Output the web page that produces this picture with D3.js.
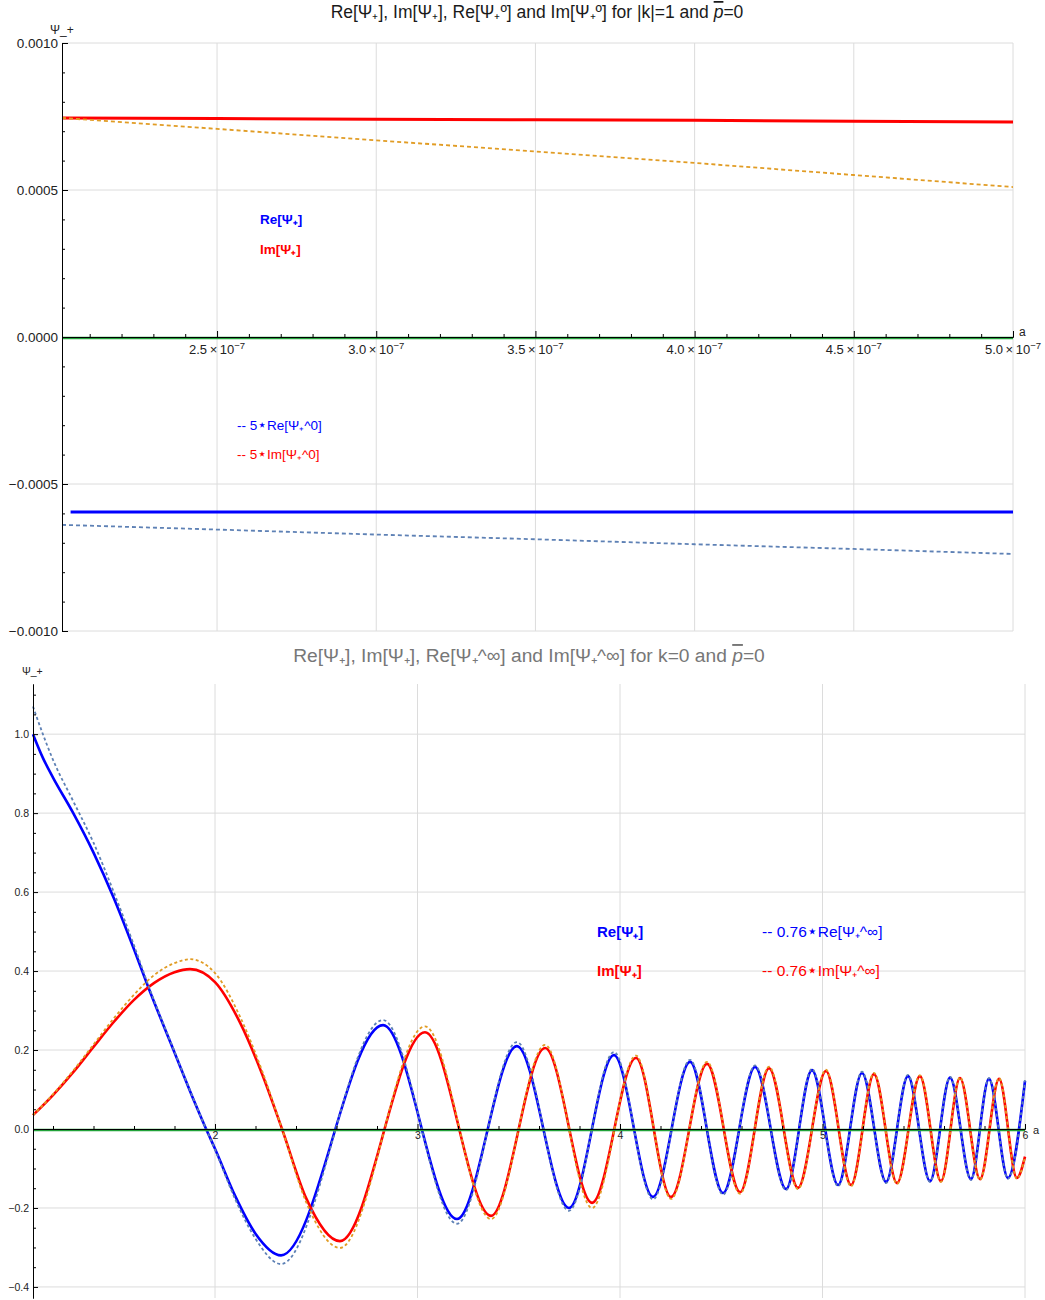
<!DOCTYPE html>
<html>
<head>
<meta charset="utf-8">
<script src="https://cdn.jsdelivr.net/npm/d3@7"></script>
<style>
  body { margin: 0; background: #fff; }
  svg text { font-family: "Liberation Sans", Arial, sans-serif; }
  .grid line { stroke: #dcdcdc; stroke-width: 1; }
  .star { font-family: "DejaVu Sans", sans-serif; }
</style>
</head>
<body>
<div id="chart"></div>
<script>
// Data
//==============================================================
// top panel, a in units of 1e-7
var topA = [2.013, 2.5, 3.0, 3.5, 4.0, 4.5, 5.0];
var topIm = [0.000745, 0.000743, 0.000741, 0.000739, 0.000737, 0.000734, 0.000731];
var topImZero = [0.000745, 0.000708, 0.000669, 0.000631, 0.000592, 0.000551, 0.000510];
var topReA = [2.04, 2.5, 3.0, 3.5, 4.0, 4.5, 5.0];
var topRe = [-0.000595, -0.000595, -0.000595, -0.000595, -0.000595, -0.000595, -0.000595];
var topReZero = [-0.000639, -0.000655, -0.000672, -0.000688, -0.000705, -0.000721, -0.000738];
var topXTicks = [2.5, 3.0, 3.5, 4.0, 4.5, 5.0];
var topYTicks = [-0.001, -0.0005, 0, 0.0005, 0.001];
var topYLabels = ["\u22120.0010", "\u22120.0005", "0.0000", "0.0005", "0.0010"];

// bottom panel
var botReA = [1.101, 1.15, 1.2, 1.3, 1.4, 1.5, 1.6, 1.672, 1.8, 1.9, 1.956, 2.0, 2.1, 2.2, 2.326, 2.830, 3.195, 3.491, 3.748,
  3.970, 4.163, 4.346, 4.509, 4.667, 4.820, 4.948, 5.077, 5.195, 5.314, 5.422, 5.531, 5.630, 5.733, 5.822, 5.916, 6.0];
var botRe = [1.0, 0.94, 0.89, 0.80, 0.70, 0.585, 0.455, 0.357, 0.194, 0.067, 0, -0.05, -0.17, -0.265, -0.320, 0.263, -0.228, 0.210, -0.200,
  0.187, -0.172, 0.170, -0.162, 0.157, -0.152, 0.149, -0.142, 0.142, -0.134, 0.134, -0.132, 0.130, -0.127, 0.127, -0.124, 0.122];
var botReInf = [1.07, 1.0, 0.935, 0.83, 0.725, 0.60, 0.465, 0.362, 0.196, 0.068, 0, -0.052, -0.178, -0.278, -0.342, 0.276, -0.240, 0.220, -0.207,
  0.195, -0.178, 0.175, -0.166, 0.161, -0.155, 0.152, -0.145, 0.145, -0.137, 0.137, -0.134, 0.132, -0.129, 0.129, -0.126, 0.124];
var botImA = [1.101, 1.2, 1.3, 1.4, 1.5, 1.6, 1.7, 1.8, 1.877, 2.0, 2.123, 2.232, 2.331, 2.45, 2.617, 3.037, 3.363, 3.630,
  3.862, 4.079, 4.252, 4.430, 4.593, 4.736, 4.879, 5.017, 5.141, 5.254, 5.368, 5.481, 5.585, 5.679, 5.778, 5.872, 5.960, 6.0];
var botIm = [0.035, 0.086, 0.144, 0.208, 0.271, 0.327, 0.370, 0.397, 0.405, 0.372, 0.270, 0.140, 0, -0.175, -0.284, 0.245, -0.220, 0.205,
  -0.187, 0.180, -0.172, 0.165, -0.160, 0.154, -0.149, 0.147, -0.142, 0.139, -0.137, 0.134, -0.132, 0.129, -0.127, 0.127, -0.124, -0.07];
var botImInf = [0.035, 0.088, 0.148, 0.214, 0.280, 0.340, 0.390, 0.420, 0.430, 0.395, 0.285, 0.148, 0, -0.185, -0.301, 0.260, -0.228, 0.213,
  -0.200, 0.186, -0.177, 0.170, -0.164, 0.158, -0.152, 0.150, -0.145, 0.142, -0.139, 0.136, -0.134, 0.131, -0.129, 0.129, -0.126, -0.07];
var botXTicks = [2, 3, 4, 5, 6];
var botYTicks = [-0.4, -0.2, 0, 0.2, 0.4, 0.6, 0.8, 1.0];

var blue = "#0000ff", red = "#ff0000", dotBlue = "#5e81b5", dotOrange = "#e19c24", zeroGreen = "#22a33a";

// Set up the svg
//==============================================================
var svg = d3.select("#chart").append("svg")
    .attr("width", 1045)
    .attr("height", 1300);

function zip(xs, ys) {
    return xs.map(function(x, i) { return [x, ys[i]]; });
}

// legend line: prefix, star, rest
function legendText(g, x, y, color, size, pre, post) {
    var t = g.append("text").attr("x", x).attr("y", y).attr("fill", color).style("font-size", size + "px");
    t.append("tspan").text(pre);
    t.append("tspan").attr("class", "star").style("font-size", (size + 2) + "px").text("\u22c6");
    t.append("tspan").text(post);
}

// Top panel
//==============================================================
var xTop = d3.scaleLinear().domain([2.013, 5.0]).range([62, 1013]);
var yTop = d3.scaleLinear().domain([-0.001, 0.001]).range([631, 43]);
var topG = svg.append("g");

topG.append("text")
    .attr("x", 537).attr("y", 18)
    .attr("text-anchor", "middle")
    .style("font-size", "17.5px").attr("fill", "#1a1a1a")
    .html('Re[\u03a8\u208a], Im[\u03a8\u208a], Re[\u03a8\u208a\u00ba] and Im[\u03a8\u208a\u00ba] for |k|=1 and <tspan style="font-style:italic;text-decoration:overline">p</tspan>=0');

var gTop = topG.append("g").attr("class", "grid");
gTop.selectAll(".vx").data(topXTicks).enter().append("line")
    .attr("x1", d => xTop(d)).attr("x2", d => xTop(d))
    .attr("y1", 43).attr("y2", 631);
gTop.selectAll(".hy").data(topYTicks.filter(d => d !== 0)).enter().append("line")
    .attr("x1", 62).attr("x2", 1013)
    .attr("y1", d => yTop(d)).attr("y2", d => yTop(d));

var lineTop = d3.line().x(d => xTop(d[0])).y(d => yTop(d[1]));

topG.append("path").datum(zip(topA, topIm))
    .attr("d", lineTop).attr("fill", "none").attr("stroke", red).attr("stroke-width", 3);
topG.append("path").datum(zip(topReA, topRe))
    .attr("d", lineTop).attr("fill", "none").attr("stroke", blue).attr("stroke-width", 3);
topG.append("path").datum(zip(topA, topImZero))
    .attr("d", lineTop).attr("fill", "none").attr("stroke", dotOrange).attr("stroke-width", 1.8)
    .attr("stroke-dasharray", "4,3");
topG.append("path").datum(zip(topA, topReZero))
    .attr("d", lineTop).attr("fill", "none").attr("stroke", dotBlue).attr("stroke-width", 1.8)
    .attr("stroke-dasharray", "4,3");

// axes of the top panel
var topMinorX = d3.range(21, 51).map(d => d / 10).filter(d => topXTicks.indexOf(d) < 0);
var topMinorY = d3.range(-10, 11).map(d => d / 10000).filter(d => Math.round(d * 10000) % 5 !== 0);

topG.append("line").attr("x1", 62).attr("x2", 1013)
    .attr("y1", yTop(0) + 1).attr("y2", yTop(0) + 1)
    .attr("stroke", zeroGreen).attr("stroke-width", 2.5);
topG.append("g")
    .attr("transform", `translate(0, ${yTop(0)})`)
    .call(d3.axisBottom(xTop).tickValues(topMinorX).tickSizeInner(-3).tickSizeOuter(0).tickFormat(""));
topG.append("g")
    .attr("transform", `translate(0, ${yTop(0)})`)
    .call(d3.axisBottom(xTop).tickValues(topXTicks).tickSizeInner(-6).tickSizeOuter(0).tickFormat(""));

var topXLab = topG.selectAll(".xl").data(topXTicks).enter().append("text")
    .attr("x", d => xTop(d)).attr("y", yTop(0) + 17)
    .attr("text-anchor", "middle").style("font-size", "13px").attr("fill", "#222");
topXLab.append("tspan").text(d => d.toFixed(1) + "\u2009\u00d7\u200910");
topXLab.append("tspan").attr("dy", -5).style("font-size", "9.5px").text("\u22127");

topG.append("g")
    .attr("transform", `translate(${xTop(2.013)}, 0)`)
    .call(d3.axisLeft(yTop).tickValues(topMinorY).tickSizeInner(-3).tickSizeOuter(0).tickFormat(""));
topG.append("g")
    .attr("transform", `translate(${xTop(2.013)}, 0)`)
    .call(d3.axisLeft(yTop).tickValues(topYTicks).tickSizeInner(-6).tickSizeOuter(0)
        .tickFormat((d, i) => topYLabels[i]))
    .call(g => g.selectAll("text").style("font-size", "13.5px").attr("fill", "#222").attr("x", -4));

topG.append("text").attr("x", 50).attr("y", 34).style("font-size", "12px").attr("fill", "#222").text("\u03a8_+");
topG.append("text").attr("x", 1019).attr("y", 336).style("font-size", "12px").attr("fill", "#222").text("a");

// legend of the top panel
topG.append("text").attr("x", 260).attr("y", 224).attr("fill", blue)
    .style("font-size", "13.5px").style("font-weight", "bold").text("Re[\u03a8\u208a]");
topG.append("text").attr("x", 260).attr("y", 254).attr("fill", red)
    .style("font-size", "13.5px").style("font-weight", "bold").text("Im[\u03a8\u208a]");
legendText(topG, 237, 430, blue, 13.5, "-- 5", "Re[\u03a8\u208a^0]");
legendText(topG, 237, 459, red, 13.5, "-- 5", "Im[\u03a8\u208a^0]");

// Bottom panel
//==============================================================
var xBot = d3.scaleLinear().domain([1.1012, 6]).range([33, 1025]);
var yBot = d3.scaleLinear().domain([-0.428, 1.127]).range([1298, 684]);
var botG = svg.append("g");

botG.append("text")
    .attr("x", 529).attr("y", 662)
    .attr("text-anchor", "middle")
    .style("font-size", "19.2px").attr("fill", "#777")
    .html('Re[\u03a8\u208a], Im[\u03a8\u208a], Re[\u03a8\u208a^\u221e] and Im[\u03a8\u208a^\u221e] for k=0 and <tspan style="font-style:italic;text-decoration:overline">p</tspan>=0');

var gBot = botG.append("g").attr("class", "grid");
gBot.selectAll(".vx").data(botXTicks).enter().append("line")
    .attr("x1", d => xBot(d)).attr("x2", d => xBot(d))
    .attr("y1", 684).attr("y2", 1298);
gBot.selectAll(".hy").data(botYTicks.filter(d => d !== 0)).enter().append("line")
    .attr("x1", 33).attr("x2", 1025)
    .attr("y1", d => yBot(d)).attr("y2", d => yBot(d));

var lineBot = d3.line().x(d => xBot(d[0])).y(d => yBot(d[1])).curve(d3.curveMonotoneX);

botG.append("path").datum(zip(botReA, botRe))
    .attr("d", lineBot).attr("fill", "none").attr("stroke", blue).attr("stroke-width", 2.6);
botG.append("path").datum(zip(botImA, botIm))
    .attr("d", lineBot).attr("fill", "none").attr("stroke", red).attr("stroke-width", 2.6);
botG.append("path").datum(zip(botReA, botReInf))
    .attr("d", lineBot).attr("fill", "none").attr("stroke", dotBlue).attr("stroke-width", 1.8)
    .attr("stroke-dasharray", "3,2.5");
botG.append("path").datum(zip(botImA, botImInf))
    .attr("d", lineBot).attr("fill", "none").attr("stroke", dotOrange).attr("stroke-width", 1.8)
    .attr("stroke-dasharray", "3,2.5");

var botMinorX = d3.range(6, 31).map(d => d / 5).filter(d => d > 1.1 && Math.abs(d - Math.round(d)) > 0.01);
var botMinorY = d3.range(-8, 23).map(d => d / 20).filter(d => Math.abs(d * 5 - Math.round(d * 5)) > 0.01);

botG.append("line").attr("x1", 33).attr("x2", 1025)
    .attr("y1", yBot(0) + 1).attr("y2", yBot(0) + 1)
    .attr("stroke", zeroGreen).attr("stroke-width", 2.5);
botG.append("g")
    .attr("transform", `translate(0, ${yBot(0)})`)
    .call(d3.axisBottom(xBot).tickValues(botMinorX).tickSizeInner(-3).tickSizeOuter(0).tickFormat(""));
botG.append("g")
    .attr("transform", `translate(0, ${yBot(0)})`)
    .call(d3.axisBottom(xBot).tickValues(botXTicks).tickSizeInner(-5).tickSizeOuter(0).tickFormat(d3.format("d")))
    .call(g => g.selectAll("text").style("font-size", "10.5px").attr("fill", "#222").attr("y", 3));

botG.append("g")
    .attr("transform", `translate(33, 0)`)
    .call(d3.axisLeft(yBot).tickValues(botMinorY).tickSizeInner(-3).tickSizeOuter(0).tickFormat(""));
botG.append("g")
    .attr("transform", `translate(33, 0)`)
    .call(d3.axisLeft(yBot).tickValues(botYTicks).tickSizeInner(-5).tickSizeOuter(0)
        .tickFormat(d => d < 0 ? "\u2212" + (-d).toFixed(1) : d.toFixed(1)))
    .call(g => g.selectAll("text").style("font-size", "10.5px").attr("fill", "#222").attr("x", -4));

botG.append("text").attr("x", 22).attr("y", 675).style("font-size", "10.5px").attr("fill", "#222").text("\u03a8_+");
botG.append("text").attr("x", 1033).attr("y", 1134).style("font-size", "11px").attr("fill", "#222").text("a");

// legend of the bottom panel
botG.append("text").attr("x", 597).attr("y", 937).attr("fill", blue)
    .style("font-size", "15px").style("font-weight", "bold").text("Re[\u03a8\u208a]");
botG.append("text").attr("x", 597).attr("y", 976).attr("fill", red)
    .style("font-size", "15px").style("font-weight", "bold").text("Im[\u03a8\u208a]");
legendText(botG, 762, 937, blue, 15.5, "-- 0.76", "Re[\u03a8\u208a^\u221e]");
legendText(botG, 762, 976, red, 15.5, "-- 0.76", "Im[\u03a8\u208a^\u221e]");
</script>
</body>
</html>
